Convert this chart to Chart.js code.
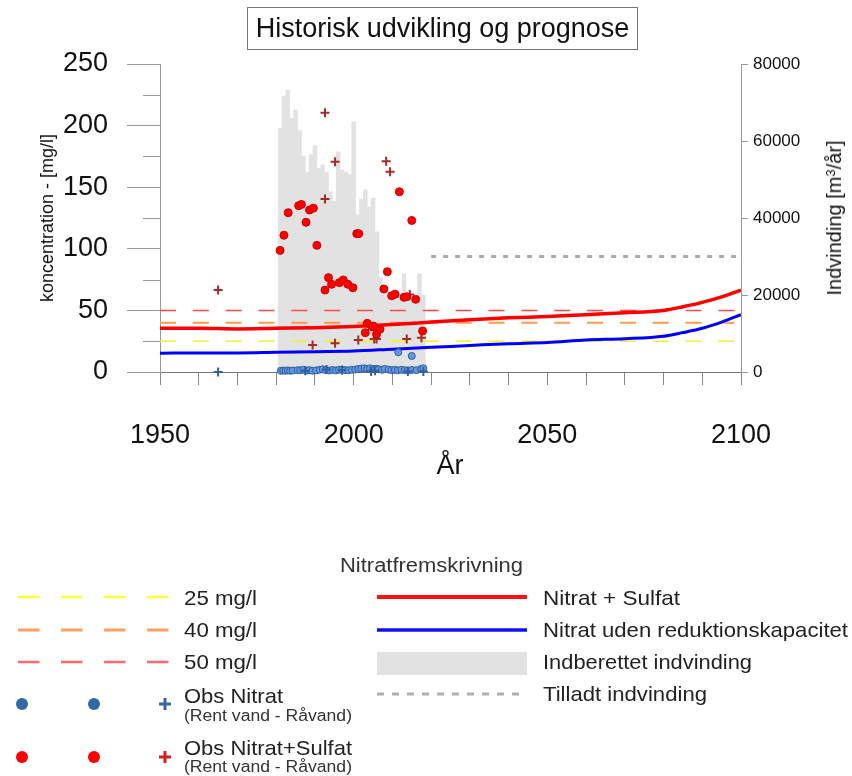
<!DOCTYPE html>
<html><head><meta charset="utf-8">
<script src="https://cdn.jsdelivr.net/npm/chart.js@4.4.0/dist/chart.umd.min.js"></script>
<style>
body{margin:0;background:#fff;font-family:"Liberation Sans",Arial,sans-serif;}
#wrap{position:relative;width:852px;height:776px;overflow:hidden;background:#fff;}
#c{position:absolute;left:0;top:0;}
.lbl{position:absolute;white-space:nowrap;color:#111;line-height:1;}
.rot{transform:translate(-50%,-50%) rotate(-90deg);}
#title{position:absolute;left:247px;top:7px;width:389px;height:41px;border:1px solid #777;text-align:center;font-size:27px;line-height:41px;color:#111;}
svg{position:absolute;left:0;top:0;}
</style></head><body>
<div id="wrap">
<canvas id="c" width="852" height="776"></canvas>
<div id="title">Historisk udvikling og prognose</div>
<div class="lbl rot" style="left:47px;top:218px;font-size:18px;">koncentration - [mg/l]</div>
<div class="lbl rot" style="left:834px;top:218px;font-size:20px;">Indvinding [m<sup style="font-size:13px;vertical-align:6px;">3</sup>/år]</div>
<div class="lbl" style="left:450px;top:452px;font-size:27px;transform:translateX(-50%);">År</div>
<svg width="852" height="776" font-family="Liberation Sans, Arial, sans-serif">
  <text x="340" y="572" font-size="20" fill="#333" textLength="183" lengthAdjust="spacingAndGlyphs">Nitratfremskrivning</text>
  <line x1="18" y1="597" x2="169" y2="597" stroke="#ffff33" stroke-width="2.5" stroke-dasharray="21.5 21.5"/>
  <line x1="18" y1="630" x2="169" y2="630" stroke="#ffa060" stroke-width="3" stroke-dasharray="21.5 21.5"/>
  <line x1="18" y1="662" x2="169" y2="662" stroke="#ff6a6a" stroke-width="2.5" stroke-dasharray="21.5 21.5"/>
  <circle cx="22" cy="704" r="6" fill="#2e6aa5"/>
  <circle cx="94" cy="704" r="6" fill="#2e6aa5"/>
  <path d="M159 704 H171 M165 698 V710" stroke="#2e6aa5" stroke-width="3"/>
  <circle cx="22" cy="757" r="6" fill="#ff0000"/>
  <circle cx="94" cy="757" r="6" fill="#ff0000"/>
  <path d="M159 757 H171 M165 751 V763" stroke="#d42020" stroke-width="3"/>
  <g font-size="21" fill="#222" lengthAdjust="spacingAndGlyphs">
    <text x="184" y="605" textLength="73" lengthAdjust="spacingAndGlyphs">25 mg/l</text>
    <text x="184" y="637" textLength="73" lengthAdjust="spacingAndGlyphs">40 mg/l</text>
    <text x="184" y="669" textLength="73" lengthAdjust="spacingAndGlyphs">50 mg/l</text>
    <text x="184" y="703" textLength="99" lengthAdjust="spacingAndGlyphs">Obs Nitrat</text>
    <text x="184" y="755" textLength="168" lengthAdjust="spacingAndGlyphs">Obs Nitrat+Sulfat</text>
  </g>
  <g font-size="16" fill="#333">
    <text x="184" y="721" textLength="168" lengthAdjust="spacingAndGlyphs">(Rent vand - Råvand)</text>
    <text x="184" y="772" textLength="168" lengthAdjust="spacingAndGlyphs">(Rent vand - Råvand)</text>
  </g>
  <line x1="377" y1="597" x2="527" y2="597" stroke="#ff1010" stroke-width="4"/>
  <line x1="377" y1="630" x2="527" y2="630" stroke="#1010f0" stroke-width="3.5"/>
  <rect x="377" y="652" width="150" height="23" fill="#e2e2e2"/>
  <line x1="377" y1="694" x2="527" y2="694" stroke="#b0b0b0" stroke-width="3" stroke-dasharray="7 8"/>
  <g font-size="21" fill="#222">
    <text x="543" y="605" textLength="137" lengthAdjust="spacingAndGlyphs">Nitrat + Sulfat</text>
    <text x="543" y="637" textLength="305" lengthAdjust="spacingAndGlyphs">Nitrat uden reduktionskapacitet</text>
    <text x="543" y="669" textLength="209" lengthAdjust="spacingAndGlyphs">Indberettet indvinding</text>
    <text x="543" y="701" textLength="164" lengthAdjust="spacingAndGlyphs">Tilladt indvinding</text>
  </g>
</svg>
</div>
<script>
// ---- Data ----
const barYears = [1981,1982,1983,1984,1985,1986,1987,1988,1989,1990,1991,1992,1993,1994,1995,1996,1997,1998,1999,2000,2001,2002,2003,2004,2005,2006,2007,2008,2009,2010,2011,2012,2013,2014,2015,2016,2017,2018];
const barValues = [63300,71700,73200,65900,68100,62700,56100,51900,56400,58800,52900,53800,51900,46800,44400,57200,52500,51900,51300,65000,40800,44900,47300,42800,45100,36400,24500,22000,19500,19000,20500,19500,25500,20000,19000,19500,25500,20000];

const projYears = [1950,1960,1970,1980,1990,2000,2010,2020,2030,2040,2050,2060,2070,2080,2085,2090,2095,2100];
const nitratSulfat = [35.5,35.5,35,35.5,36,37,38.5,40.5,42.5,44,45,46.5,48,50,53,56.5,61,66.5];
const nitratUdenRed = [15.2,15.5,15.5,16,16.5,17,18.5,20,21.5,23,24,26,27,29,32,35.5,40.5,46.5];

const limitYears = [1950,2100];
const limit25 = [25,25];
const limit40 = [40,40];
const limit50 = [50,50];

const tilladtYears = [2020,2100];
const tilladtValues = [30000,30000];

const obsNitSulfRentX = [1981,1982,1983.1,1985.8,1986.5,1987.7,1988.6,1989.6,1990.5,1992.6,1993.5,1994.3,1996.3,1997.3,1998.5,1999.8,2000.8,2001.3,2003,2003.5,2004.7,2005.1,2005.9,2006.8,2007.8,2008.7,2009.8,2010.7,2011.8,2013,2013.7,2015,2016,2017.8];
const obsNitSulfRentY = [98.7,111,129.3,135,136,121.5,131.5,133,102.8,66.5,76.6,71.2,72.5,74.7,71.2,68.4,112.3,112.3,31.9,39.5,36.8,37.3,30.6,34.7,67.4,81.4,61.9,63.1,146.3,60.6,61.1,123,59,33.3];

const obsNitSulfRaaX = [1965,1989.4,1992.6,1992.6,1995.2,1995.2,2001.2,2005.3,2005.9,2008.4,2009.4,2013.7,2014.5,2017.5];
const obsNitSulfRaaY = [66.6,21.9,210.5,140.4,170.7,23.3,26,26.8,26.8,171,162.6,26.8,63,27.8];

const obsNitRentX = [1981.2,1981.8,1982.4,1983,1983.6,1984.3,1985.5,1986.2,1987,1988,1988.6,1989.4,1990.3,1991.2,1992,1992.8,1993.6,1994.5,1995.4,1996.2,1997,1997.8,1998.6,1999.5,2000.4,2001.2,2002,2002.8,2003.5,2004.2,2005,2005.8,2006.5,2007.3,2008,2009,2009.8,2010.6,2011.4,2011.5,2012.3,2013.2,2014,2015,2015,2016.2,2017.4,2018];
const obsNitRentY = [1,1.2,1,1.3,1,1.2,1.5,1.4,1.8,1.2,1.5,1,1.3,1.8,2.2,1.5,1.2,1.6,1.3,1.8,2,1.5,1.4,1.8,2,2.5,2.8,3,2.6,3,2.4,2.6,2.2,1.8,2.5,2,1.5,1.7,1.4,16,1.8,1.5,1.3,13,1.6,1.5,2.5,3];

const obsNitRaaX = [1965,1987.5,1993,1997,2004.5,2005.5,2014,2018];
const obsNitRaaY = [0,1,2,1.5,0.5,1,0.5,0.5];

const xTickLabels = [1950,2000,2050,2100];
const yMinorTicks = [25,75,125,175,225];

// ---- helpers ----
const pts = (xs, ys) => xs.map((x, i) => ({x, y: ys[i]}));
const FONT = '"Liberation Sans", Arial, sans-serif';

const minorTicksPlugin = {
  id: 'minorTicks',
  afterDraw(chart) {
    const s = chart.scales.y, ctx = chart.ctx;
    ctx.save();
    ctx.strokeStyle = '#999'; ctx.lineWidth = 1;
    yMinorTicks.forEach(v => {
      const p = Math.round(s.getPixelForValue(v)) + 0.5;
      ctx.beginPath(); ctx.moveTo(s.right - 17, p); ctx.lineTo(s.right, p); ctx.stroke();
    });
    ctx.restore();
  }
};

new Chart(document.getElementById('c'), {
  type: 'line',
  data: {
    datasets: [
      { type: 'bar', label: 'Indberettet indvinding', data: pts(barYears, barValues), yAxisID: 'y2',
        backgroundColor: '#e2e2e2', borderWidth: 0, barPercentage: 1, categoryPercentage: 1, order: 10 },
      { label: '50 mg/l', data: pts(limitYears, limit50), borderColor: '#ff4a4a', borderWidth: 1.5, borderDash: [16, 16.85], pointRadius: 0, order: 8 },
      { label: '40 mg/l', data: pts(limitYears, limit40), borderColor: '#ff9a45', borderWidth: 2, borderDash: [16, 16.85], pointRadius: 0, order: 8 },
      { label: '25 mg/l', data: pts(limitYears, limit25), borderColor: '#f2f230', borderWidth: 1.5, borderDash: [16, 16.85], pointRadius: 0, order: 8 },
      { label: 'Tilladt indvinding', data: pts(tilladtYears, tilladtValues), yAxisID: 'y2', borderColor: '#aaaaaa', borderWidth: 3, borderDash: [5, 7], pointRadius: 0, order: 8 },
      { label: 'Nitrat + Sulfat', data: pts(projYears, nitratSulfat), borderColor: '#ff0000', borderWidth: 3.5, pointRadius: 0, cubicInterpolationMode: 'monotone', order: 5 },
      { label: 'Nitrat uden reduktionskapacitet', data: pts(projYears, nitratUdenRed), borderColor: '#0000ff', borderWidth: 3, pointRadius: 0, cubicInterpolationMode: 'monotone', order: 5 },
      { label: 'Obs Nitrat+Sulfat Råvand', data: pts(obsNitSulfRaaX, obsNitSulfRaaY), showLine: false, pointStyle: 'cross', pointRadius: 4.5, borderColor: '#a52a2a', borderWidth: 2, clip: false, order: 2 },
      { label: 'Obs Nitrat+Sulfat Rent vand', data: pts(obsNitSulfRentX, obsNitSulfRentY), showLine: false, pointStyle: 'circle', pointRadius: 4, backgroundColor: '#ff0000', borderColor: '#d00000', borderWidth: 1, clip: false, order: 1 },
      { label: 'Obs Nitrat Rent vand', data: pts(obsNitRentX, obsNitRentY), showLine: false, pointStyle: 'circle', pointRadius: 3.5, backgroundColor: '#6497e2', borderColor: '#2f5f9f', borderWidth: 1, clip: false, order: 1 },
      { label: 'Obs Nitrat Råvand', data: pts(obsNitRaaX, obsNitRaaY), showLine: false, pointStyle: 'cross', pointRadius: 4.5, borderColor: '#2e5f9f', borderWidth: 2, clip: false, order: 0 }
    ]
  },
  options: {
    responsive: false,
    animation: false,
    devicePixelRatio: 1,
    layout: { padding: { top: 64, left: 0, right: 0, bottom: 0 } },
    plugins: { legend: { display: false }, tooltip: { enabled: false }, title: { display: false } },
    scales: {
      x: {
        type: 'linear', position: 'bottom', min: 1950, max: 2100, offset: false,
        grid: { drawOnChartArea: false, tickLength: 13, color: '#888', offset: false },
        border: { color: '#777' },
        ticks: { stepSize: 10, autoSkip: false, maxRotation: 0, padding: 34,
          font: { size: 27, family: FONT }, color: '#111',
          callback: v => xTickLabels.includes(v) ? String(v) : '' },
        afterFit: s => { s.height = 776 - 372; }
      },
      y: {
        type: 'linear', position: 'left', min: 0, max: 250,
        grid: { drawOnChartArea: false, tickLength: 33, color: '#999' },
        border: { color: '#999' },
        ticks: { stepSize: 50, padding: 19, font: { size: 27, family: FONT }, color: '#111' },
        afterFit: s => { s.width = 160; }
      },
      y2: {
        type: 'linear', position: 'right', min: 0, max: 80000,
        grid: { drawOnChartArea: false, tickLength: 7, color: '#999' },
        border: { color: '#999' },
        ticks: { stepSize: 20000, padding: 5, font: { size: 17, family: FONT }, color: '#111',
          callback: v => String(v) },
        afterFit: s => { s.width = 852 - 741; }
      }
    }
  },
  plugins: [minorTicksPlugin]
});
</script>
</body></html>
